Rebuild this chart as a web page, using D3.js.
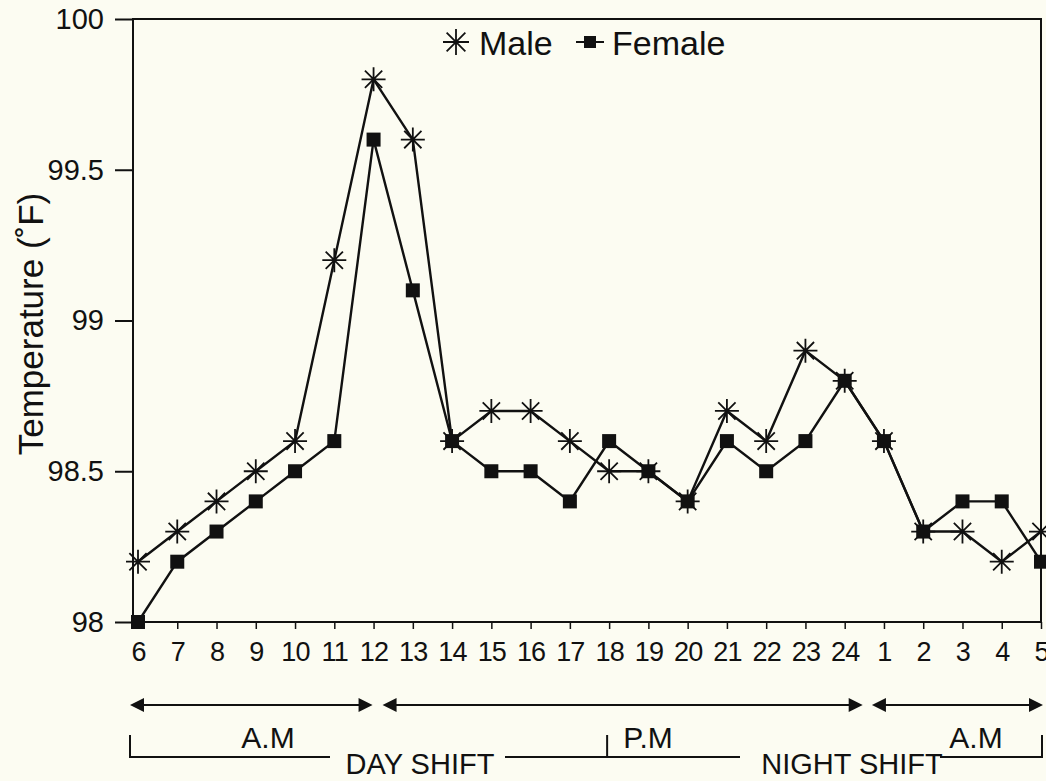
<!DOCTYPE html>
<html>
<head>
<meta charset="utf-8">
<script src="https://cdn.jsdelivr.net/npm/d3@7"></script>
<style>
  body { margin: 0; background: #fcfcf2; }
  svg { display: block; font-family: "Liberation Sans", Arial, sans-serif; }
</style>
</head>
<body>
<div id="chart"></div>
<script>
// hours along the x axis, 6 a.m. round to 5 a.m.
var hours = ["6","7","8","9","10","11","12","13","14","15","16","17","18","19","20","21","22","23","24","1","2","3","4","5"];
var maleTemp   = [98.2,98.3,98.4,98.5,98.6,99.2,99.8,99.6,98.6,98.7,98.7,98.6,98.5,98.5,98.4,98.7,98.6,98.9,98.8,98.6,98.3,98.3,98.2,98.3];
var femaleTemp = [98.0,98.2,98.3,98.4,98.5,98.6,99.6,99.1,98.6,98.5,98.5,98.4,98.6,98.5,98.4,98.6,98.5,98.6,98.8,98.6,98.3,98.4,98.4,98.2];
var yTicks = [98, 98.5, 99, 99.5, 100];
var yTickLabels = ["98", "98.5", "99", "99.5", "100"];

var width = 1046, height = 781;
var plotL = 133, plotT = 19, plotR = 1041, plotB = 622;

var svg = d3.select("#chart").append("svg")
  .attr("width", width)
  .attr("height", height);

var x = d3.scalePoint()
  .domain(hours)
  .range([138, plotR]);

var y = d3.scaleLinear()
  .domain([98, 100])
  .range([plotB, plotT]);

// frame
svg.append("rect")
  .attr("x", plotL).attr("y", plotT)
  .attr("width", plotR - plotL).attr("height", plotB - plotT)
  .attr("fill", "none").attr("stroke", "#111").attr("stroke-width", 2);

// y axis
var yAxis = svg.append("g")
  .attr("transform", "translate(" + plotL + ",0)")
  .call(d3.axisLeft(y).tickValues(yTicks)
    .tickFormat(function(d, i) { return yTickLabels[i]; })
    .tickSize(18).tickPadding(11));
yAxis.select(".domain").remove();
yAxis.selectAll("line").attr("stroke", "#111").attr("stroke-width", 2);
yAxis.selectAll("text").attr("font-size", 29).attr("fill", "#111")
  .attr("font-family", "Liberation Sans, Arial, sans-serif");

// x axis
var xAxis = svg.append("g")
  .attr("transform", "translate(0," + plotB + ")")
  .call(d3.axisBottom(x).tickSize(7).tickPadding(13));
xAxis.select(".domain").remove();
xAxis.selectAll("line").attr("stroke", "#111").attr("stroke-width", 1.5);
xAxis.selectAll("text").attr("font-size", 27).attr("fill", "#111")
  .attr("letter-spacing", -0.8)
  .attr("font-family", "Liberation Sans, Arial, sans-serif");

// y label
svg.append("text")
  .attr("transform", "translate(43,324) rotate(-90)")
  .attr("text-anchor", "middle")
  .attr("font-size", 35)
  .attr("fill", "#111")
  .text("Temperature (˚F)");

var line = d3.line()
  .x(function(d, i) { return x(hours[i]); })
  .y(function(d) { return y(d); });

svg.append("path").datum(maleTemp)
  .attr("d", line).attr("fill", "none").attr("stroke", "#111").attr("stroke-width", 2.4);
svg.append("path").datum(femaleTemp)
  .attr("d", line).attr("fill", "none").attr("stroke", "#111").attr("stroke-width", 2.4);

function star(g, r) {
  var d = r * 0.72;
  g.append("path")
    .attr("d", "M" + (-r) + ",0H" + r + "M0," + (-r) + "V" + r +
      "M" + (-d) + "," + (-d) + "L" + d + "," + d + "M" + (-d) + "," + d + "L" + d + "," + (-d))
    .attr("stroke", "#111").attr("stroke-width", 1.8).attr("fill", "none");
}

svg.selectAll(".male").data(maleTemp).enter().append("g")
  .attr("class", "male")
  .attr("transform", function(d, i) { return "translate(" + x(hours[i]) + "," + y(d) + ")"; })
  .each(function() { star(d3.select(this), 12); });

svg.selectAll(".female").data(femaleTemp).enter().append("rect")
  .attr("class", "female")
  .attr("x", function(d, i) { return x(hours[i]) - 7; })
  .attr("y", function(d) { return y(d) - 7; })
  .attr("width", 14).attr("height", 14)
  .attr("fill", "#111");

// legend
var leg = svg.append("g");
star(leg.append("g").attr("transform", "translate(456,42)"), 13);
leg.append("text").attr("x", 479).attr("y", 55).attr("font-size", 34).attr("fill", "#111").text("Male");
leg.append("line").attr("x1", 576).attr("x2", 604).attr("y1", 42).attr("y2", 42)
  .attr("stroke", "#111").attr("stroke-width", 2);
leg.append("rect").attr("x", 584).attr("y", 36).attr("width", 12).attr("height", 12).attr("fill", "#111");
leg.append("text").attr("x", 612).attr("y", 55).attr("font-size", 34).attr("fill", "#111").text("Female");

// period arrows under the axis
var periods = [
  { from: "6", to: "12", dx1: -8, dx2: -1, label: "A.M", lx: 268 },
  { from: "12", to: "24", dx1: 9, dx2: 18, label: "P.M", lx: 648 },
  { from: "1", to: "5", dx1: -12, dx2: 2, label: "A.M", lx: 976 }
];
var ay = 705;
var ann = svg.append("g");
periods.forEach(function(p) {
  var x1 = x(p.from) + p.dx1;
  var x2 = x(p.to) + p.dx2;
  ann.append("line").attr("x1", x1 + 10).attr("x2", x2 - 10).attr("y1", ay).attr("y2", ay)
    .attr("stroke", "#111").attr("stroke-width", 2);
  ann.append("path").attr("d", "M" + x1 + "," + ay + "l14,-7v14z").attr("fill", "#111");
  ann.append("path").attr("d", "M" + x2 + "," + ay + "l-14,-7v14z").attr("fill", "#111");
  ann.append("text").attr("x", p.lx).attr("y", 748).attr("text-anchor", "middle")
    .attr("font-size", 30).attr("fill", "#111").text(p.label);
});

// shift brackets
var by = 757;
var bx0 = x("6") - 8, bxMid = x("18") - 2, bx1 = x("5") + 1;
var br = "M" + bx0 + ",735V" + by + "H330" +
  "M505," + by + "H740" +
  "M" + bxMid + ",735V" + by +
  "M940," + by + "H" + bx1 + "V735";
ann.append("path").attr("d", br).attr("fill", "none").attr("stroke", "#111").attr("stroke-width", 2);
ann.append("text").attr("x", 420).attr("y", 774).attr("text-anchor", "middle")
  .attr("font-size", 29).attr("fill", "#111").text("DAY SHIFT");
ann.append("text").attr("x", 852).attr("y", 774).attr("text-anchor", "middle")
  .attr("font-size", 29).attr("fill", "#111").text("NIGHT SHIFT");
</script>
</body>
</html>
